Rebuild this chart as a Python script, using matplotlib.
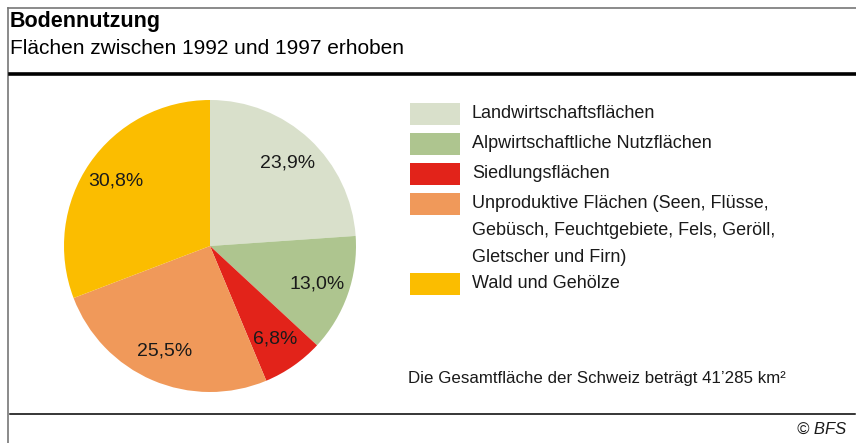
import matplotlib.pyplot as plt
from matplotlib.lines import Line2D
from matplotlib.patches import Rectangle

plt.rcParams['font.family'] = ['Liberation Sans', 'DejaVu Sans']

categories = ['Landwirtschaftsflächen',
              'Alpwirtschaftliche Nutzflächen',
              'Siedlungsflächen',
              'Unproduktive Flächen (Seen, Flüsse,\nGebüsch, Feuchtgebiete, Fels, Geröll,\nGletscher und Firn)',
              'Wald und Gehölze']
shares = [23.9, 13.0, 6.8, 25.5, 30.8]
colors = ['#d9e0cb', '#aec58f', '#e2231a', '#f0995a', '#fbbd00']

W, H = 856, 443
fig = plt.figure(figsize=(W / 100, H / 100), dpi=100)

def fx(px):
    return px / W

def fy(py):
    return 1 - py / H

# frame and rules
fig.add_artist(Line2D([fx(8), fx(8)], [0, fy(8)], color='#777777', lw=1.2))
fig.add_artist(Line2D([fx(8), 1], [fy(8), fy(8)], color='#777777', lw=1.2))
fig.add_artist(Line2D([fx(10), fx(855)], [fy(74), fy(74)], color='black', lw=2.6))
fig.add_artist(Line2D([fx(10), fx(855)], [fy(414), fy(414)], color='black', lw=1.1))

fig.text(fx(10), fy(22), 'Bodennutzung', fontsize=15.5, fontweight='bold', va='center')
fig.text(fx(10), fy(48), 'Flächen zwischen 1992 und 1997 erhoben', fontsize=15, va='center')

# pie
ax = fig.add_axes([fx(64), fy(392), fx(292), 292 / H])
wedges, texts, autotexts = ax.pie(
    shares, colors=colors, startangle=90, counterclock=False,
    autopct=lambda p: f'{p:.1f}%'.replace('.', ','), pctdistance=0.78,
    textprops={'fontsize': 14, 'color': '#1a1a1a'})
ax.set_xlim(-1, 1)
ax.set_ylim(-1, 1)
ax.set_aspect('equal')
ax.axis('off')

# legend
rows_y = [103, 133, 163, 193, 273]
for cat, col, y0 in zip(categories, colors, rows_y):
    fig.add_artist(Rectangle((fx(410), fy(y0 + 22)), fx(50), 22 / H,
                             facecolor=col, edgecolor='none'))
    fig.text(fx(472), fy(y0 + 2), cat, fontsize=13, va='top',
             linespacing=1.78, color='#1a1a1a')

fig.text(fx(408), fy(379), 'Die Gesamtfläche der Schweiz beträgt 41’285 km²',
         fontsize=12.2, va='center', color='#1a1a1a')
fig.text(fx(846), fy(429), '© BFS', fontsize=12, style='italic', ha='right',
         va='center', color='#1a1a1a')

fig.savefig('out.png', dpi=100)
